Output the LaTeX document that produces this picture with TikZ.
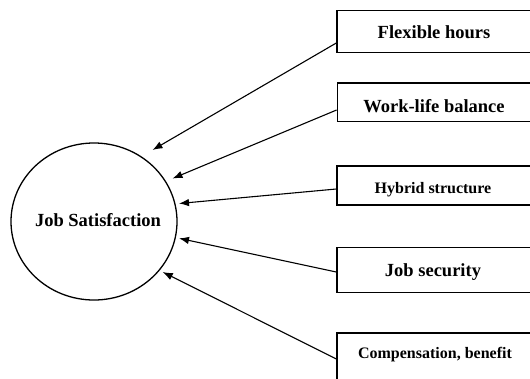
\documentclass[tikz,border=0pt]{standalone}
\usepackage{fontspec}
\setmainfont{Liberation Serif}
\usetikzlibrary{shapes.geometric,arrows.meta}
\begin{document}
\begin{tikzpicture}[x=1pt,y=-1pt,
  boxstyle/.style={draw,line width=1.4pt,rectangle,inner sep=0pt,minimum width=194pt},
  lbl/.style={anchor=base,inner sep=0pt,font=\bfseries\fontsize{18.5}{22}\selectfont},
  lblsmall/.style={anchor=base,inner sep=0pt,font=\bfseries\fontsize{16}{19}\selectfont},
  arr/.style={-{Latex[length=10pt,width=7.5pt]},line width=1.1pt}]
\useasboundingbox (0,0) rectangle (530,378);
\clip (0,0) rectangle (530,378);
% central ellipse
\node[draw,ellipse,line width=1.3pt,minimum width=166pt,minimum height=157pt,inner sep=0pt] (jsc) at (94,221.5) {};
\node[lbl] (jst) at (98,226) {Job Satisfaction};
% boxes
\node[boxstyle,minimum height=42pt] (b1) at (434,31.7) {};
\node[boxstyle,minimum height=38.7pt] (b2) at (434.3,102.3) {};
\node[boxstyle,minimum height=39pt] (b3) at (434,185.5) {};
\node[boxstyle,minimum height=45pt] (b4) at (434,269.8) {};
\node[boxstyle,minimum height=62pt] (b5) at (434,364) {};
% labels
\node[lbl] (l1) at (434,38.5) {Flexible hours};
\node[lbl] (l2) at (434,112) {Work-life balance};
\node[lblsmall] (l3) at (433,193.3) {Hybrid structure};
\node[lbl] (l4) at (433,276.7) {Job security};
\node[lblsmall] (l5) at (435,358.3) {Compensation, benefit};
% arrow start points on box left sides
\coordinate (s1) at ([yshift=-11.3pt]b1.west);
\coordinate (s2) at ([yshift=-7.7pt]b2.west);
\coordinate (s3) at ([yshift=-3.5pt]b3.west);
\coordinate (s4) at ([yshift=-2.2pt]b4.west);
\coordinate (s5) at ([yshift=5pt]b5.west);
% arrow tips near the ellipse
\coordinate (t1) at (152.5,150);
\coordinate (t2) at (172.5,178.5);
\coordinate (t3) at (179,203.5);
\coordinate (t4) at (179,238.3);
\coordinate (t5) at (162.7,272);
\draw[arr] (s1) -- (t1);
\draw[arr] (s2) -- (t2);
\draw[arr] (s3) -- (t3);
\draw[arr] (s4) -- (t4);
\draw[arr] (s5) -- (t5);
\end{tikzpicture}
\end{document}
